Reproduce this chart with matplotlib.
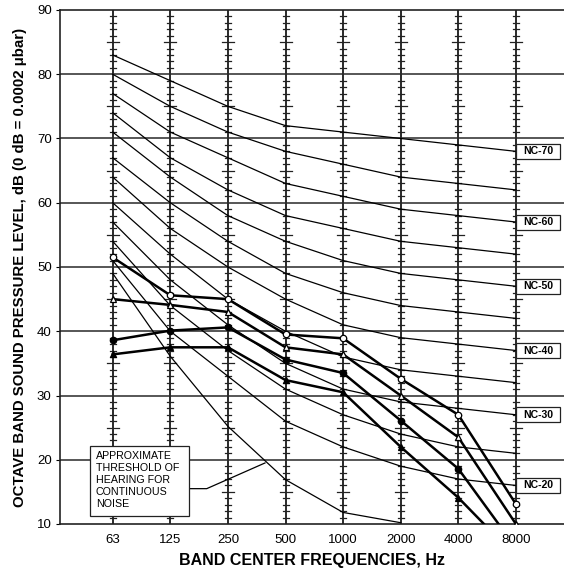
import numpy as np
import matplotlib
matplotlib.use("Agg")
import matplotlib.pyplot as plt
from matplotlib.patches import Rectangle

plt.rcParams['font.family'] = ['Liberation Sans', 'DejaVu Sans']

# octave band centre frequencies
freq_labels = ['63', '125', '250', '500', '1000', '2000', '4000', '8000']

# NC curves (dB at each band)
nc_levels = [20, 25, 30, 35, 40, 45, 50, 55, 60, 65, 70]
nc_values = [
    [51, 40, 33, 26, 22, 19, 17, 16],
    [54, 44, 37, 31, 27, 24, 22, 21],
    [57, 48, 41, 35, 31, 29, 28, 27],
    [60, 52, 45, 40, 36, 34, 33, 32],
    [64, 56, 50, 45, 41, 39, 38, 37],
    [67, 60, 54, 49, 46, 44, 43, 42],
    [71, 64, 58, 54, 51, 49, 48, 47],
    [74, 67, 62, 58, 56, 54, 53, 52],
    [77, 71, 67, 63, 61, 59, 58, 57],
    [80, 75, 71, 68, 66, 64, 63, 62],
    [83, 79, 75, 72, 71, 70, 69, 68],
]
nc_labeled = [20, 30, 40, 50, 60, 70]

# approximate threshold of hearing (63 .. 2000 Hz)
threshold = [49.0, 36.1, 25.2, 16.9, 11.8, 10.2]

# measured spectra
open_circle = [51.5, 45.6, 45.0, 39.5, 38.9, 32.6, 27.0, 13.1]
open_triangle = [45.0, 44.1, 43.0, 37.5, 36.4, 30.0, 23.5, 10.0]
filled_circle = [38.6, 40.1, 40.6, 35.6, 33.5, 26.1, 18.6, 6.3]
filled_triangle = [36.4, 37.5, 37.5, 32.4, 30.5, 22.0, 14.1, 4.9]

fig = plt.figure(figsize=(5.64, 5.74), dpi=100)
ax = fig.add_axes([60 / 564, 50 / 574, 504 / 564, 514 / 574])

xi = np.arange(len(freq_labels))
ax.set_xlim(-0.915, 7.835)
ax.set_ylim(10, 90)

# horizontal grid every 10 dB
for lev in range(20, 90, 10):
    ax.axhline(lev, color='#3a3a3a', lw=1.2, zorder=1)

# vertical band lines with dB tick marks
px_per_x = 57.6
minor_hw = 3 / px_per_x
major_hw = 6 / px_per_x
for x in xi:
    ax.axvline(x, color='#2a2a2a', lw=1.4, zorder=1)
    for db in range(11, 90):
        if db % 10 == 0:
            continue
        hw = major_hw if db % 5 == 0 else minor_hw
        ax.plot([x - hw, x + hw], [db, db], color='#222222', lw=0.9, zorder=1)

# NC curves
for lev, vals in zip(nc_levels, nc_values):
    ax.plot(xi, vals, color='black', lw=0.9, zorder=2)
    if lev in nc_labeled:
        y0 = vals[-1]
        ax.add_patch(Rectangle((7.01, y0 - 1.17), 0.76, 2.34, facecolor='white',
                               edgecolor='#222222', lw=0.9, zorder=4, clip_on=False))
        ax.text(7.39, y0, f'NC-{lev}', ha='center', va='center', fontsize=7.6,
                fontweight='bold', zorder=5)

# threshold of hearing
ax.plot(xi[:len(threshold)], threshold, color='black', lw=0.9, zorder=2)

# measured spectra
mk = dict(color='black', lw=1.8, markersize=4.6, markeredgewidth=0.9, zorder=3)
ax.plot(xi, open_circle, marker='o', markerfacecolor='white', markeredgecolor='black', **mk)
ax.plot(xi, open_triangle, marker='^', markerfacecolor='white', markeredgecolor='black', **mk)
ax.plot(xi, filled_circle, marker='o', markerfacecolor='black', markeredgecolor='black', **mk)
ax.plot(xi, filled_triangle, marker='^', markerfacecolor='black', markeredgecolor='black', **mk)

# threshold annotation
ax.add_patch(Rectangle((-0.394, 11.3), 1.719, 10.9, facecolor='white',
                       edgecolor='#222222', lw=0.9, zorder=4))
ax.text(-0.29, 21.4, 'APPROXIMATE\nTHRESHOLD OF\nHEARING FOR\nCONTINUOUS\nNOISE',
        ha='left', va='top', fontsize=7.7, linespacing=1.25, zorder=5)
ax.plot([1.325, 1.632, 2.644], [15.5, 15.5, 19.5], color='black', lw=0.9, zorder=3)

# axes styling
ax.spines['right'].set_visible(False)
for s in ['left', 'top', 'bottom']:
    ax.spines[s].set_linewidth(1.2)
    ax.spines[s].set_color('#222222')
ax.set_xticks(xi)
ax.set_xticklabels(freq_labels, fontsize=9.5)
ax.set_yticks(range(10, 91, 10))
ax.set_yticklabels([str(v) for v in range(10, 91, 10)], fontsize=9.5)
ax.tick_params(axis='x', length=0, pad=7)
ax.tick_params(axis='y', length=3, pad=3)

ax.set_xlabel('BAND CENTER FREQUENCIES, Hz', fontsize=11.5, fontweight='bold', labelpad=5)
ax.set_ylabel('OCTAVE BAND SOUND PRESSURE LEVEL, dB (0 dB = 0.0002 \u03bcbar)',
              fontsize=10.8, fontweight='bold', labelpad=7)

fig.savefig('out.png', dpi=100)
